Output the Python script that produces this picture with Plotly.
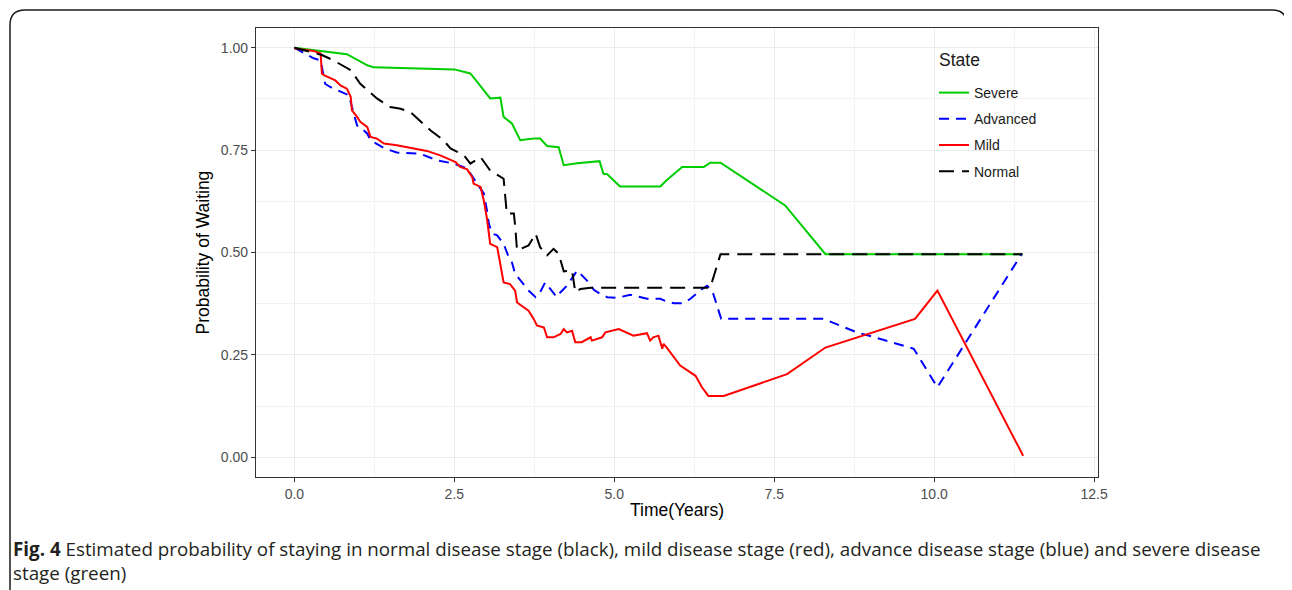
import plotly.graph_objects as go

# ---- data ----
severe_t = [0, 0.40, 0.82, 1.14, 1.24, 2.50, 2.75, 2.86, 3.06, 3.22, 3.27, 3.40, 3.53, 3.74, 3.84,
            3.95, 4.13, 4.21, 4.42, 4.77, 4.83, 4.89, 5.09, 5.72, 5.80, 6.06, 6.40, 6.50, 6.66,
            7.67, 8.30, 11.38]
severe_p = [1.0, 0.992, 0.984, 0.957, 0.952, 0.947, 0.937, 0.916, 0.876, 0.878, 0.831, 0.815, 0.774,
            0.778, 0.778, 0.760, 0.757, 0.713, 0.718, 0.723, 0.692, 0.691, 0.661, 0.661, 0.674,
            0.709, 0.709, 0.719, 0.719, 0.615, 0.496, 0.496]

advanced_t = [0, 0.20, 0.30, 0.41, 0.48, 0.56, 0.72, 0.85, 0.90, 0.98, 1.06, 1.14, 1.19, 1.40, 1.60,
              1.97, 2.23, 2.49, 2.70, 2.85, 2.96, 3.01, 3.04, 3.09, 3.17, 3.27, 3.35, 3.40, 3.45,
              3.66, 3.77, 3.84, 3.92, 4.00, 4.10, 4.16, 4.26, 4.42, 4.57, 4.68, 4.78, 4.89, 5.04,
              5.25, 5.41, 5.51, 5.72, 5.82, 5.93, 6.08, 6.19, 6.34, 6.45, 6.53, 6.58, 6.63, 6.67,
              8.27, 8.53, 8.79, 9.16, 9.68, 10.05, 11.37]
advanced_p = [1.0, 0.982, 0.974, 0.969, 0.912, 0.904, 0.892, 0.884, 0.855, 0.810, 0.802, 0.790, 0.774,
              0.755, 0.744, 0.741, 0.725, 0.717, 0.705, 0.668, 0.644, 0.603, 0.570, 0.546, 0.542,
              0.521, 0.489, 0.476, 0.448, 0.407, 0.391, 0.403, 0.427, 0.411, 0.391, 0.403, 0.419,
              0.456, 0.432, 0.409, 0.399, 0.391, 0.389, 0.397, 0.391, 0.387, 0.387, 0.380, 0.376,
              0.376, 0.387, 0.407, 0.419, 0.407, 0.383, 0.358, 0.338, 0.338, 0.322, 0.305, 0.289,
              0.265, 0.171, 0.497]

mild_t = [0, 0.30, 0.41, 0.43, 0.46, 0.64, 0.72, 0.82, 0.88, 0.90, 0.98, 1.03, 1.14, 1.19, 1.29, 1.40,
          1.60, 1.86, 2.07, 2.28, 2.39, 2.52, 2.59, 2.70, 2.78, 2.80, 2.91, 2.96, 3.01, 3.06, 3.17,
          3.22, 3.27, 3.37, 3.45, 3.48, 3.58, 3.66, 3.74, 3.79, 3.90, 3.95, 4.05, 4.16, 4.21, 4.26,
          4.34, 4.39, 4.49, 4.63, 4.65, 4.81, 4.86, 5.07, 5.30, 5.51, 5.56, 5.61, 5.69, 5.75, 5.77,
          5.82, 6.03, 6.11, 6.27, 6.37, 6.47, 6.71, 6.86, 7.70, 8.30, 9.70, 10.05, 11.39]
mild_p = [0.998, 0.992, 0.986, 0.937, 0.933, 0.920, 0.908, 0.900, 0.880, 0.847, 0.831, 0.819, 0.806,
          0.782, 0.778, 0.766, 0.762, 0.754, 0.748, 0.737, 0.729, 0.721, 0.709, 0.703, 0.684, 0.668,
          0.660, 0.627, 0.583, 0.521, 0.513, 0.472, 0.427, 0.423, 0.407, 0.378, 0.366, 0.358, 0.338,
          0.322, 0.317, 0.293, 0.293, 0.301, 0.313, 0.305, 0.309, 0.281, 0.281, 0.293, 0.285, 0.293,
          0.305, 0.313, 0.297, 0.303, 0.285, 0.293, 0.297, 0.265, 0.277, 0.268, 0.224, 0.216, 0.199,
          0.171, 0.150, 0.150, 0.158, 0.203, 0.268, 0.338, 0.407, 0.004]

normal_t = [0, 0.43, 0.61, 0.88, 1.03, 1.29, 1.50, 1.66, 1.81, 1.92, 2.13, 2.33, 2.44, 2.65, 2.75,
            2.91, 3.06, 3.27, 3.32, 3.43, 3.45, 3.48, 3.66, 3.77, 3.84, 3.95, 4.05, 4.13, 4.18, 4.21,
            4.34, 4.36, 4.39, 4.47, 4.63, 6.50, 6.55, 6.63, 6.66, 11.38]
normal_p = [1.0, 0.982, 0.969, 0.945, 0.912, 0.876, 0.855, 0.851, 0.843, 0.827, 0.798, 0.774, 0.754,
            0.737, 0.717, 0.733, 0.700, 0.680, 0.595, 0.595, 0.566, 0.505, 0.517, 0.546, 0.513,
            0.493, 0.509, 0.497, 0.472, 0.454, 0.456, 0.432, 0.403, 0.411, 0.414, 0.414, 0.440,
            0.476, 0.496, 0.496]

x_ticks = [0.0, 2.5, 5.0, 7.5, 10.0, 12.5]
x_tick_labels = ["0.0", "2.5", "5.0", "7.5", "10.0", "12.5"]
y_ticks = [0.0, 0.25, 0.5, 0.75, 1.0]
y_tick_labels = ["0.00", "0.25", "0.50", "0.75", "1.00"]

caption = ("<b>Fig. 4</b> Estimated probability of staying in normal disease stage (black), mild disease "
           "stage (red), advance disease stage (blue) and severe disease<br>stage (green)")

# ---- figure ----
# the page body has an 8px margin, so the figure is placed at (8, 8) in the window
OFF = 8
W, H = 1292 - OFF, 590 - OFF
# plot area in window pixels
L, R, T, B = 256, 1098, 28, 477
Lf, Rf, Tf, Bf = L - OFF, R - OFF, T - OFF, B - OFF

fig = go.Figure()
series = [
    ("Severe", severe_t, severe_p, "#00CD00", "solid"),
    ("Advanced", advanced_t, advanced_p, "#0000FF", "10px,7px"),
    ("Mild", mild_t, mild_p, "#FF0000", "solid"),
    ("Normal", normal_t, normal_p, "#000000", "15px,8px"),
]
for name, t, p, col, dash in series:
    fig.add_trace(go.Scatter(x=t, y=p, mode="lines", name=name, legendgroup=name,
                             line=dict(color=col, width=2, dash=dash)))


def px_x(px):  # window pixel -> paper
    return (px - L) / (R - L)


def px_y(py):
    return (B - py) / (B - T)


# rounded outer frame
r = 15
x0, x1, y0, y1 = 10, 1287, 10, 610
path = (f"M {px_x(x0)},{px_y(y1)} L {px_x(x0)},{px_y(y0 + r)} "
        f"Q {px_x(x0)},{px_y(y0)} {px_x(x0 + r)},{px_y(y0)} "
        f"L {px_x(x1 - r)},{px_y(y0)} Q {px_x(x1)},{px_y(y0)} {px_x(x1)},{px_y(y0 + r)} "
        f"L {px_x(x1)},{px_y(y1)}")
fig.add_shape(type="path", path=path, xref="paper", yref="paper",
              line=dict(color="#1a1a1a", width=1.5), layer="above")

# legend background box
fig.add_shape(type="rect", xref="paper", yref="paper", x0=px_x(930), x1=px_x(1046),
              y0=px_y(190), y1=px_y(40), fillcolor="white", line=dict(width=0), layer="between")

fig.add_annotation(text="State", xref="paper", yref="paper", x=px_x(937), y=px_y(60),
                   xanchor="left", yanchor="middle", showarrow=False,
                   font=dict(family="Liberation Sans, Arial", size=17.5, color="#1a1a1a"))

fig.add_annotation(text=caption, xref="paper", yref="paper", x=px_x(11), y=px_y(534),
                   xanchor="left", yanchor="top", align="left", showarrow=False,
                   font=dict(family="Open Sans", size=18.8, color="#231f20"))

axis_common = dict(showline=True, mirror=True, linecolor="#333333", linewidth=1.2,
                   ticks="outside", ticklen=4, tickcolor="#333333", tickwidth=1,
                   showgrid=True, gridcolor="#EBEBEB", gridwidth=1, zeroline=False,
                   tickfont=dict(family="Liberation Sans, Arial", size=14, color="#4D4D4D"))

fig.update_layout(
    width=W, height=H,
    margin=dict(l=Lf, r=W - Rf, t=Tf, b=H - Bf, autoexpand=False),
    paper_bgcolor="white", plot_bgcolor="white",
    font=dict(family="Liberation Sans, Arial", color="black"),
    xaxis=dict(range=[-0.6, 12.56], tickvals=x_ticks, ticktext=x_tick_labels,
               title=dict(text="Time(Years)", font=dict(size=17.5, color="black"), standoff=2),
               minor=dict(tickvals=[1.25, 3.75, 6.25, 8.75, 11.25], showgrid=True,
                          gridcolor="#F2F2F2", gridwidth=0.6, ticks=""),
               **axis_common),
    yaxis=dict(range=[-0.048, 1.048], tickvals=y_ticks, ticktext=y_tick_labels,
               title=dict(text="Probability of Waiting", font=dict(size=17.5, color="black"), standoff=6),
               minor=dict(tickvals=[0.125, 0.375, 0.625, 0.875], showgrid=True,
                          gridcolor="#F2F2F2", gridwidth=0.6, ticks=""),
               **axis_common),
    legend=dict(x=px_x(934), y=px_y(77), xanchor="left", yanchor="top",
                bgcolor="rgba(255,255,255,0)", borderwidth=0, tracegroupgap=5,
                font=dict(size=14, color="#1a1a1a"), itemwidth=30),
    showlegend=True,
)

fig.write_html("out.html")
